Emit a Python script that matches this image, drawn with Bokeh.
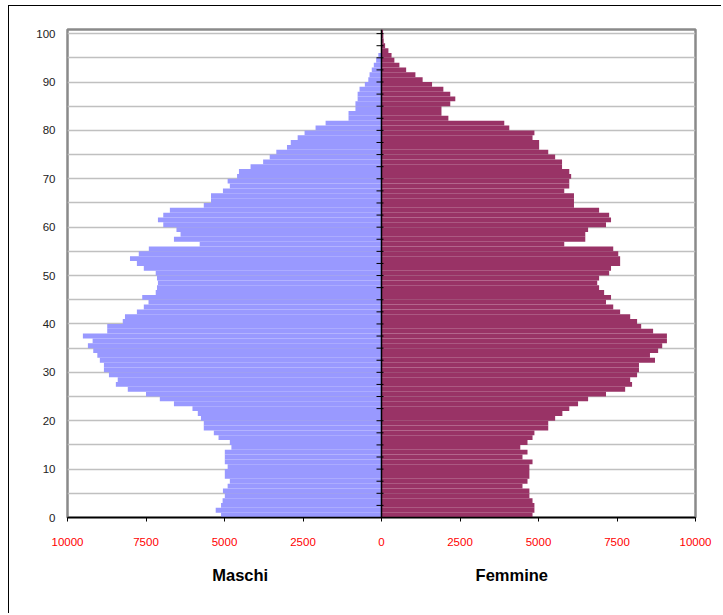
from bokeh.plotting import figure
from bokeh.models import Range1d, FixedTicker, Span, LinearAxis, ColumnDataSource
from bokeh.embed import file_html
from bokeh.resources import INLINE

ages = list(range(0, 101))

maschi = [5110, 5280, 5110, 5060, 4990, 5050, 4900, 4830, 4990, 4990,
          4900, 4990, 4990, 4990, 4780, 4830, 5190, 5340, 5660, 5660,
          5750, 5850, 6020, 6610, 7060, 7500, 8080, 8460, 8400, 8680,
          8840, 8840, 8970, 9050, 9180, 9350, 9200, 9510, 8735, 8735,
          8240, 8170, 7790, 7570, 7420, 7620, 7190, 7150, 7120, 7150,
          7190, 7570, 7790, 8010, 7730, 7410, 5790, 6610, 6400, 6530,
          6950, 7120, 6950, 6740, 5660, 5430, 5430, 5050, 4830, 4900,
          4600, 4540, 4170, 3770, 3560, 3350, 3010, 2890, 2670, 2450,
          2100, 1780, 1050, 1050, 830, 830, 760, 760, 700, 530,
          420, 380, 310, 245, 170, 100, 0, 0, 0, 0,
          0]

femmine = [4810, 4870, 4870, 4810, 4710, 4710, 4490, 4650, 4710, 4710,
           4710, 4810, 4490, 4650, 4420, 4650, 4810, 4870, 5310, 5310,
           5530, 5760, 5980, 6260, 6580, 7150, 7760, 7980, 7920, 8140,
           8200, 8200, 8710, 8550, 8810, 8940, 9090, 9090, 8650, 8270,
           8140, 7920, 7600, 7380, 7150, 7310, 7090, 6930, 6870, 6930,
           7250, 7310, 7600, 7600, 7540, 7380, 5820, 6490, 6490, 6580,
           7150, 7310, 7250, 6930, 6130, 6130, 6130, 5820, 5980, 5980,
           6040, 5980, 5750, 5750, 5530, 5310, 5020, 5020, 4810, 4870,
           4070, 3910, 2130, 1910, 1910, 2190, 2350, 2190, 1970, 1610,
           1310, 1080, 785, 570, 410, 320, 220, 115, 70, 60,
           50]

x_ticks = [-10000, -7500, -5000, -2500, 0, 2500, 5000, 7500, 10000]
x_tick_labels = ["10000", "7500", "5000", "2500", "0", "2500", "5000", "7500", "10000"]
y_ticks = list(range(0, 101, 10))
grid_ticks = list(range(0, 101, 5))
center_ticks = [t / 2 for t in range(0, 201, 5)]
title_pos = [-4500, 4150]
title_text = ["Maschi", "Femmine"]

FONT = "Liberation Sans"

p = figure(width=713, height=608, output_backend="svg", toolbar_location=None,
           x_range=Range1d(-10000, 10000), y_range=Range1d(0, 100.85))
p.min_border_left = 58
p.min_border_right = 27
p.min_border_top = 23
p.min_border_bottom = 97
p.background_fill_color = "white"
p.border_fill_color = "white"
p.outline_line_color = "#8a8a8a"
p.outline_line_width = 2.5
p.styles = {"margin-left": "8px", "margin-top": "5px",
            "border-left": "1px solid black", "border-top": "1px solid black"}

src = ColumnDataSource(dict(
    y=[a + 0.5 for a in ages],
    mleft=[-v for v in maschi],
    zero=[0] * len(ages),
    fright=femmine,
))
p.hbar(y="y", left="mleft", right="zero", height=1.0, source=src,
       fill_color="#9999FF", line_color=None)
p.hbar(y="y", left="zero", right="fright", height=1.0, source=src,
       fill_color="#993366", line_color=None)

# grid
p.xgrid.grid_line_color = None
p.ygrid.ticker = FixedTicker(ticks=grid_ticks)
p.ygrid.grid_line_color = "#c0c0c0"
p.ygrid.grid_line_width = 1.5

# x axis
xa = p.xaxis[0]
xa.ticker = FixedTicker(ticks=x_ticks)
xa.major_label_overrides = {t: l for t, l in zip(x_ticks, x_tick_labels)}
xa.major_label_text_color = "#ff0000"
xa.major_label_text_font = FONT
xa.major_label_text_font_size = "11.5px"
xa.axis_line_color = "black"
xa.axis_line_width = 1.5
xa.major_tick_out = 4
xa.major_tick_in = 0
xa.major_tick_line_color = "black"
xa.minor_tick_line_color = None
xa.major_label_standoff = 16

# second axis below carrying the two titles
ta = LinearAxis(ticker=FixedTicker(ticks=title_pos),
                major_label_overrides={t: s for t, s in zip(title_pos, title_text)},
                axis_line_color=None, major_tick_line_color=None, minor_tick_line_color=None,
                major_label_text_font=FONT, major_label_text_font_style="bold",
                major_label_text_font_size="16.5px", major_label_text_color="black",
                major_label_standoff=11)
p.add_layout(ta, "below")

# y axis
ya = p.yaxis[0]
ya.ticker = FixedTicker(ticks=y_ticks)
ya.axis_line_color = None
ya.major_tick_line_color = None
ya.minor_tick_line_color = None
ya.major_label_text_font = FONT
ya.major_label_text_font_size = "11.5px"
ya.major_label_text_color = "#222222"
ya.major_label_standoff = 6

# central axis
p.add_layout(Span(location=0, dimension="height", line_color="black", line_width=1.5))
px_per_unit = 628 / 20000.0
p.segment(x0=-5 / px_per_unit, x1=2 / px_per_unit, y0=center_ticks, y1=center_ticks,
          line_color="black", line_width=1)

open("out.html", "w").write(file_html(p, INLINE))
